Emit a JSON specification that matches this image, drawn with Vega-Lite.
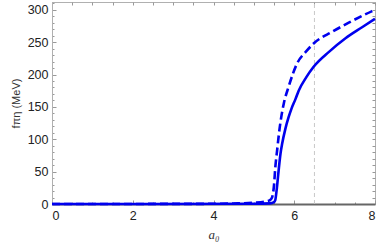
{
  "$schema": "https://vega.github.io/schema/vega-lite/v6.json",
  "width": 323,
  "height": 202,
  "autosize": {"type": "none"},
  "padding": {"left": 52, "top": 2, "right": 7, "bottom": 44},
  "background": "white",
  "config": {
    "view": {"stroke": "#b0b0b0", "strokeWidth": 1},
    "axis": {"labelFont": "Liberation Sans", "labelFontSize": 12.5, "labelColor": "#222", "titleFont": "Liberation Sans", "titleFontSize": 11, "titleColor": "#333", "grid": false, "tickColor": "#999", "domainColor": "#b0b0b0"}
  },
  "datasets": {
    "solid": [
      {"a": 0, "f": 0}, {"a": 5.0, "f": 0.3}, {"a": 5.4, "f": 1}, {"a": 5.5, "f": 3},
      {"a": 5.53, "f": 6}, {"a": 5.57, "f": 25}, {"a": 5.62, "f": 56}, {"a": 5.66, "f": 78},
      {"a": 5.7, "f": 93}, {"a": 5.78, "f": 116}, {"a": 5.86, "f": 134}, {"a": 5.93, "f": 147},
      {"a": 6.03, "f": 162}, {"a": 6.11, "f": 175}, {"a": 6.3, "f": 196}, {"a": 6.48, "f": 212},
      {"a": 6.86, "f": 235}, {"a": 7.27, "f": 256}, {"a": 7.68, "f": 273}, {"a": 8.0, "f": 286}
    ],
    "dashed": [
      {"a": 0, "f": 0}, {"a": 4.0, "f": 0.3}, {"a": 4.5, "f": 0.8}, {"a": 5.0, "f": 2},
      {"a": 5.3, "f": 4}, {"a": 5.4, "f": 6}, {"a": 5.45, "f": 10}, {"a": 5.5, "f": 30},
      {"a": 5.53, "f": 56}, {"a": 5.58, "f": 85}, {"a": 5.62, "f": 108}, {"a": 5.68, "f": 135},
      {"a": 5.74, "f": 155}, {"a": 5.86, "f": 181}, {"a": 6.07, "f": 217}, {"a": 6.3, "f": 236},
      {"a": 6.48, "f": 248}, {"a": 6.94, "f": 266}, {"a": 7.35, "f": 280}, {"a": 7.93, "f": 298},
      {"a": 8.0, "f": 300}
    ],
    "vline": [{"a": 6.5, "lo": 0, "hi": 312}]
  },
  "resolve": {"axis": {"x": "independent", "y": "independent"}},
  "layer": [
    {
      "data": {"name": "vline"},
      "mark": {"type": "rule", "color": "#c8c8c8", "strokeWidth": 1, "strokeDash": [4, 3]},
      "encoding": {
        "x": {"field": "a", "type": "quantitative", "scale": {"domain": [0, 8], "nice": false},
          "axis": {"orient": "top", "values": [0,0.5,1,1.5,2,2.5,3,3.5,4,4.5,5,5.5,6,6.5,7,7.5,8], "labels": false, "title": null, "tickSize": -3, "domain": false}},
        "y": {"field": "lo", "type": "quantitative", "scale": {"domain": [0, 312], "nice": false, "zero": true},
          "axis": {"orient": "right", "values": [10,20,30,40,50,60,70,80,90,100,110,120,130,140,150,160,170,180,190,200,210,220,230,240,250,260,270,280,290,300,310], "labels": false, "title": null, "tickSize": -3, "domain": false}},
        "y2": {"field": "hi"}
      }
    },
    {
      "data": {"name": "dashed"},
      "mark": {"type": "line", "color": "#0000ee", "strokeWidth": 2.6, "strokeDash": [8, 4], "interpolate": "monotone"},
      "encoding": {
        "x": {"field": "a", "type": "quantitative", "scale": {"domain": [0, 8], "nice": false},
          "axis": {"orient": "bottom", "values": [0.5,1,1.5,2.5,3,3.5,4.5,5,5.5,6.5,7,7.5], "labels": false, "title": null, "tickSize": -2, "domain": false}},
        "y": {"field": "f", "type": "quantitative", "scale": {"domain": [0, 312], "nice": false, "zero": true},
          "axis": {"orient": "left", "values": [10,20,30,40,60,70,80,90,110,120,130,140,160,170,180,190,210,220,230,240,260,270,280,290,310], "labels": false, "title": null, "tickSize": -2, "domain": false}}
      }
    },
    {
      "data": {"name": "solid"},
      "mark": {"type": "line", "color": "#0000ee", "strokeWidth": 2.6, "interpolate": "monotone"},
      "encoding": {
        "x": {"field": "a", "type": "quantitative", "scale": {"domain": [0, 8], "nice": false},
          "axis": {"orient": "bottom", "values": [0, 2, 4, 6, 8], "tickSize": -4, "labelPadding": 9, "domainColor": "#666", "domainWidth": 2, "title": "a₀", "titleFont": "Liberation Serif", "titleFontStyle": "italic", "titleFontWeight": "normal", "titleFontSize": 13, "titlePadding": 7}},
        "y": {"field": "f", "type": "quantitative", "scale": {"domain": [0, 312], "nice": false, "zero": true},
          "axis": {"orient": "left", "values": [0, 50, 100, 150, 200, 250, 300], "tickSize": -4, "labelPadding": 8, "title": "fπη (MeV)", "titleFontWeight": "normal", "titlePadding": 6}}
      }
    }
  ]
}
